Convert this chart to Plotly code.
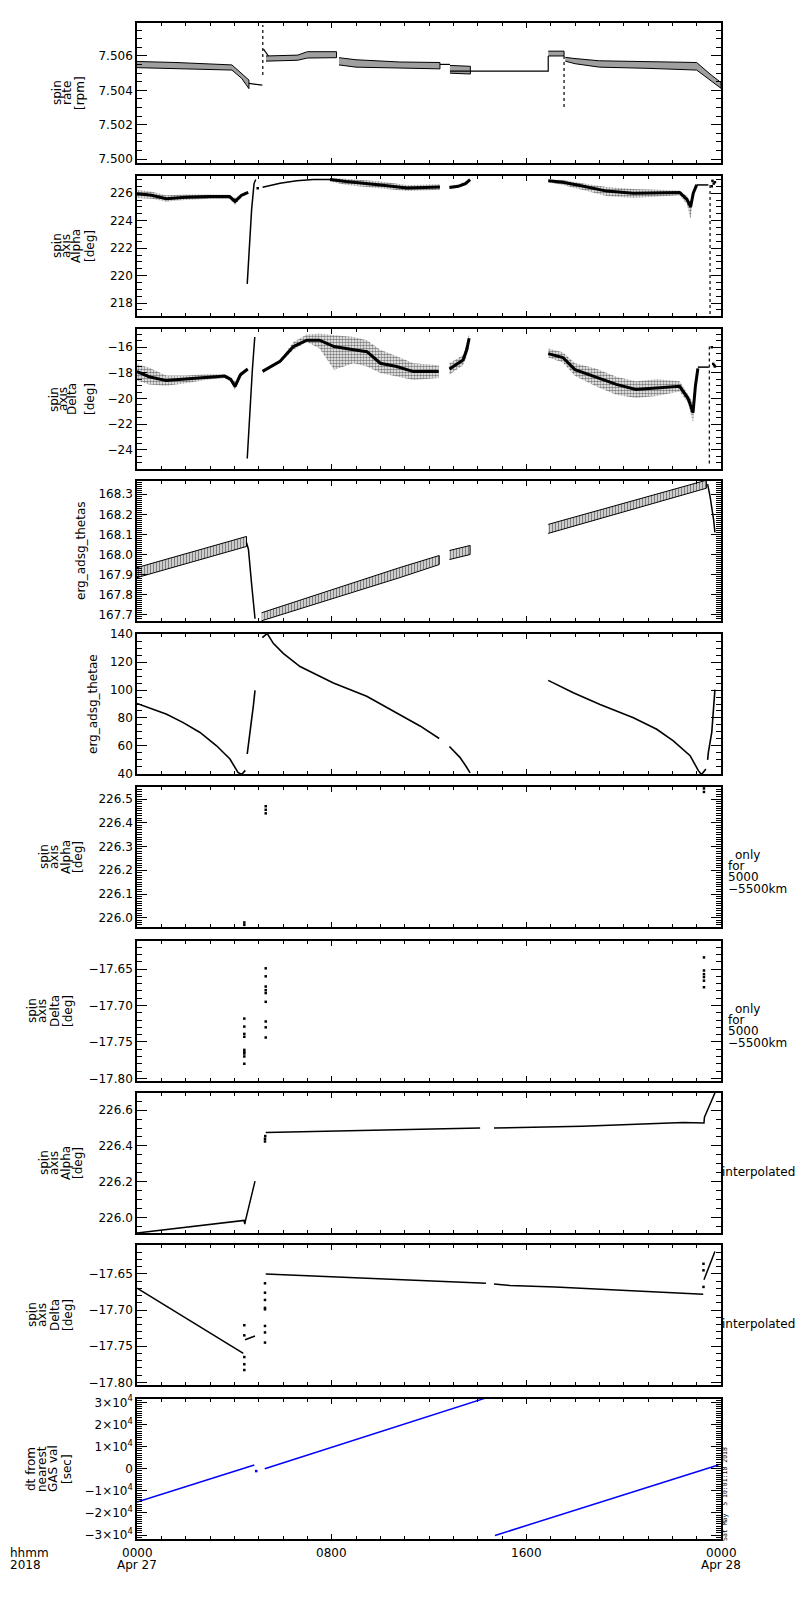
import plotly.graph_objs as go
from plotly.subplots import make_subplots

# time axis: hours after 0000 UT, Apr 27 2018

# panel 1: spin rate [rpm] (quantised band: upper / lower levels)
rate_band_t = [0, 1.6, 3.9, 4.3, 4.6, None, 5.3, 6.6, 7.0, 8.2, None, 8.3, 9.0, 10.8, 12.45, None,
               12.86, 13.7, None, 16.9, 17.55, None, 17.6, 18.0, 19.0, 21.0, 23.0, 23.55, 24.0]
rate_band_hi = [7.50568, 7.50562, 7.50548, 7.50500, 7.50460, None, 7.50600, 7.50605, 7.50625, 7.50625, None,
                7.50590, 7.50578, 7.50565, 7.50562, None, 7.50545, 7.50540, None, 7.50628, 7.50628, None,
                7.50592, 7.50585, 7.50572, 7.50568, 7.50562, 7.50495, 7.50445]
rate_band_lo = [7.50532, 7.50528, 7.50518, 7.50470, 7.50410, None, 7.50570, 7.50575, 7.50588, 7.50590, None,
                7.50548, 7.50535, 7.50528, 7.50525, None, 7.50500, 7.50495, None, 7.50600, 7.50600, None,
                7.50570, 7.50555, 7.50535, 7.50528, 7.50518, 7.50462, 7.50412]
rate_line_t = [4.6, 5.15, None, 5.2, 5.4, None, 12.45, 12.86, None, 12.86, 16.9, 16.9]
rate_line_v = [7.50440, 7.50430, None, 7.50640, 7.50600, None, 7.50551, 7.50551, None, 7.50512, 7.50512, 7.50600]
rate_drop_t = [5.17, 5.17, None, 17.55, 17.55]
rate_drop_v = [7.5049, 7.5078, None, 7.5060, 7.5030]

# panel 2: spin axis Alpha [deg]
alpha_t = [0, 0.6, 1.2, 2.0, 3.0, 3.8, 4.03, 4.3, 4.57, None,
           7.93, 8.6, 10.0, 11.1, 12.45, None,
           12.84, 13.2, 13.5, 13.69, None,
           16.9, 17.5, 18.35, 19.3, 20.4, 21.5, 22.3, 22.6, 22.75, 22.86, 23.0]
alpha_mid = [225.95, 225.85, 225.6, 225.7, 225.75, 225.75, 225.4, 225.85, 226.05, None,
             227.0, 226.85, 226.6, 226.38, 226.45, None,
             226.42, 226.5, 226.7, 226.98, None,
             226.9, 226.8, 226.5, 226.15, 226.0, 226.0, 226.05, 225.55, 225.0, 226.0, 226.6]
alpha_lo = [225.65, 225.6, 225.4, 225.5, 225.6, 225.6, 225.15, 225.7, 225.95, None,
            226.85, 226.6, 226.35, 226.15, 226.25, None,
            226.3, 226.4, 226.6, 226.9, None,
            226.8, 226.6, 226.25, 225.8, 225.65, 225.75, 225.85, 225.2, 224.1, 225.7, 226.5]
alpha_hi = [226.25, 226.1, 225.85, 225.9, 225.9, 225.88, 225.65, 225.95, 226.15, None,
            227.1, 227.05, 226.85, 226.6, 226.65, None,
            226.55, 226.62, 226.85, 227.05, None,
            227.0, 226.95, 226.7, 226.45, 226.3, 226.25, 226.2, 225.8, 225.4, 226.2, 226.7]
alpha_line_t = [4.53, 4.64, 4.71, 4.81, 4.88, None, 5.16, 5.88, 6.56, 7.25, 7.93, None, 23.0, 23.48]
alpha_line_v = [219.4, 222.9, 224.8, 226.7, 227.0, None, 226.43, 226.72, 226.91, 227.0, 227.0, None, 226.6, 226.6]
alpha_drop_t = [23.55, 23.55]
alpha_drop_v = [217.2, 226.6]
alpha_pts_t = [4.96, 23.62, 23.65, 23.7, 23.75]
alpha_pts_v = [226.36, 226.5, 226.9, 226.7, 226.8]

# panel 3: spin axis Delta [deg]
delta_t = [0, 0.5, 1.2, 2.0, 2.8, 3.6, 3.85, 4.03, 4.25, 4.55, None,
           5.16, 5.88, 6.43, 6.98, 7.5, 8.1, 8.9, 9.45, 10.0, 10.67, 11.36, 12.4, None,
           12.84, 13.4, 13.55, 13.65, None,
           16.9, 17.5, 18.0, 18.85, 19.7, 20.5, 21.35, 22.3, 22.65, 22.85, 22.95, 23.05]
delta_mid = [-17.9, -18.3, -18.6, -18.5, -18.35, -18.25, -18.5, -19.05, -18.15, -17.7, None,
             -17.88, -17.1, -15.95, -15.45, -15.45, -15.95, -16.2, -16.35, -17.25, -17.5, -17.9, -17.9, None,
             -17.7, -17.0, -16.2, -15.3, None,
             -16.5, -16.8, -17.75, -18.3, -18.9, -19.3, -19.2, -19.05, -20.0, -21.1, -19.0, -17.65]
delta_hi = [-17.3, -17.6, -18.2, -18.2, -18.1, -18.1, -18.3, -18.7, -17.95, -17.6, None,
            -17.8, -17.0, -15.6, -15.0, -14.95, -15.05, -15.2, -15.45, -16.2, -16.7, -17.25, -17.4, None,
            -17.25, -16.6, -15.7, -14.95, None,
            -16.1, -16.4, -17.25, -17.65, -18.3, -18.65, -18.5, -18.65, -19.7, -20.35, -18.6, -17.55]
delta_lo = [-18.6, -18.9, -19.0, -18.8, -18.55, -18.4, -18.7, -19.35, -18.3, -17.8, None,
            -17.95, -17.2, -16.2, -15.6, -16.1, -17.75, -17.25, -17.5, -18.0, -18.3, -18.55, -18.4, None,
            -18.15, -17.4, -16.7, -15.9, None,
            -16.8, -17.2, -18.25, -19.05, -19.7, -19.95, -19.8, -19.45, -20.35, -21.9, -19.4, -17.75]
delta_line_t = [4.53, 4.66, 4.74, 4.84, None, 23.05, 23.5]
delta_line_v = [-24.67, -20.1, -17.8, -15.2, None, -17.55, -17.55]
delta_drop_t = [23.52, 23.52]
delta_drop_v = [-15.95, -25.3]
delta_pts_t = [23.62, 23.68, 23.72, 23.75]
delta_pts_v = [-16.0, -17.3, -17.4, -17.5]

# panel 4: erg_adsg_thetas (spin-modulated band)
thetas_t = [0, 4.5, None, 5.12, 10.8, 12.42, None, 12.84, 13.69, None, 16.9, 23.4]
thetas_lo = [167.885, 168.04, None, 167.67, 167.885, 167.95, None, 167.975, 168.0, None, 168.105, 168.33]
thetas_hi = [167.935, 168.09, None, 167.71, 167.935, 167.995, None, 168.02, 168.045, None, 168.15, 168.37]
thetas_line_t = [4.5, 4.58, 4.72, 4.85, None, 23.45, 23.55, 23.7, 23.75]
thetas_line_v = [168.06, 168.025, 167.84, 167.68, None, 168.35, 168.29, 168.17, 168.11]

# panel 5: erg_adsg_thetae
thetae_t = [0, 1.22, 1.9, 2.59, 3.27, 3.82, 4.15, 4.3, 4.45, None,
            4.53, 4.61, 4.71, 4.78, 4.85, None,
            5.15, 5.35, 5.6, 6.01, 6.7, 8.07, 9.44, 10.8, 11.63, 12.42, None,
            12.84, 13.27, 13.5, 13.69, None,
            16.9, 17.93, 19.03, 20.4, 21.36, 22.04, 22.73, 23.07, 23.2, 23.38, None,
            23.45, 23.48, 23.62, 23.68, 23.75]
thetae_v = [90.4, 82.6, 76.7, 69.6, 60.1, 50.6, 41.0, 39.5, 42.5, None,
            54.2, 67.0, 79.0, 88.4, 99.8, None,
            137.5, 140.5, 133.4, 126.3, 116.8, 105.0, 95.5, 82.5, 74.3, 65.3, None,
            59.6, 51.8, 46.0, 40.7, None,
            106.9, 98.0, 89.6, 80.2, 71.9, 63.6, 53.0, 42.3, 39.5, 43.5, None,
            50.0, 55.4, 69.6, 81.4, 100.3]

# panels 6/7: spin axis only for 5000-5500 km
only_alpha_t = [4.41, 4.41, 5.29, 5.29, 5.29, 23.3, 23.3]
only_alpha_v = [225.98, 225.97, 226.47, 226.455, 226.44, 226.545, 226.53]
only_delta_t = [4.41, 4.41, 4.41, 4.41, 4.41, 4.41, 4.41, 4.41, 4.41,
                5.29, 5.29, 5.29, 5.29, 5.29, 5.29, 5.29, 5.29, 5.29,
                23.3, 23.3, 23.3, 23.3, 23.3, 23.3]
only_delta_v = [-17.718, -17.729, -17.739, -17.743, -17.761, -17.764, -17.766, -17.770, -17.780,
                -17.649, -17.660, -17.674, -17.679, -17.683, -17.695, -17.722, -17.730, -17.744,
                -17.634, -17.652, -17.657, -17.661, -17.666, -17.675]

# panels 8/9: interpolated spin axis
interp_alpha_t = [0, 4.4, 4.43, 4.46, 4.85, None, 5.29, 10.8, 14.1, None,
                  14.67, 18.3, 22.45, 23.3, 23.32, 23.75]
interp_alpha_v = [225.915, 225.985, 225.965, 225.985, 226.204, None, 226.475, 226.49, 226.50, None,
                  226.50, 226.51, 226.53, 226.528, 226.56, 226.695]
interp_alpha_pts_t = [5.26, 5.26, 5.27]
interp_alpha_pts_v = [226.425, 226.44, 226.455]
interp_delta_t = [0, 4.37, None, 4.44, 4.85, None, 5.29, 10.8, 11.63, 13.45, 14.34, None,
                  14.67, 15.33, 17.18, 19.03, 20.88, 22.73, 23.27, None, 23.3, 23.75]
interp_delta_v = [-17.6697, -17.760, None, -17.741, -17.736, None, -17.650, -17.658, -17.660, -17.662, -17.663, None,
                  -17.664, -17.666, -17.668, -17.671, -17.674, -17.677, -17.678, None, -17.658, -17.619]
interp_delta_pts_t = [4.41, 4.41, 4.41, 4.41, 4.41,
                      5.26, 5.26, 5.26, 5.26, 5.26, 5.26, 5.26, 5.26,
                      23.28, 23.28, 23.28]
interp_delta_pts_v = [-17.721, -17.735, -17.765, -17.775, -17.783,
                      -17.663, -17.676, -17.686, -17.697, -17.699, -17.722, -17.731, -17.745,
                      -17.636, -17.645, -17.668]

# panel 10: dt from nearest GAS value [sec]
dt_t = [0, 4.82, None, 5.25, 14.29, None, 14.71, 23.89]
dt_v = [-15100, 1630, None, 0, 31800, None, -30200, 1630]
dt_pts_t = [4.9]
dt_pts_v = [-1090]

dt_tickvals = [-30000, -20000, -10000, 0, 10000, 20000, 30000]
dt_ticktext = ["\u22123\u00d710<sup>4</sup>", "\u22122\u00d710<sup>4</sup>", "\u22121\u00d710<sup>4</sup>", "0",
               "1\u00d710<sup>4</sup>", "2\u00d710<sup>4</sup>", "3\u00d710<sup>4</sup>"]

time_ticks = [0, 8, 16, 24]
time_labels = ["0000", "0800", "1600", "0000"]
date_labels = ["Apr 27", "", "", "Apr 28"]

titles = [
    ["spin", "rate", "[rpm]"],
    ["spin", "axis", "Alpha", "[deg]"],
    ["spin", "axis", "Delta", "[deg]"],
    ["erg_adsg_thetas"],
    ["erg_adsg_thetae"],
    ["spin", "axis", "Alpha", "[deg]"],
    ["spin", "axis", "Delta", "[deg]"],
    ["spin", "axis", "Alpha", "[deg]"],
    ["spin", "axis", "Delta", "[deg]"],
    ["dt from", "nearest", "GAS val", "[sec]"],
]

# ---------------- layout geometry (pixels of the 800x1600 page)
W, H = 800, 1600
L, R, T, B = 137, 721, 23, 1539
panel_tops = [23, 176, 329, 481, 634, 787, 941, 1093, 1245, 1399]
panel_h = 140
title_x = [[57, 67, 80], [57, 66, 76, 90], [54, 63, 72, 90], [81], [93],
           [44, 54, 66, 78], [32, 42, 55, 68], [44, 54, 66, 78], [32, 42, 55, 68], [31, 42, 53, 67]]
FONT = "DejaVu Sans"


def px_x(p):
    return (p - L) / (R - L)


def px_y(p):
    return (B - p) / (B - T)


def segments(t, *cols):
    segs, cur = [], []
    for row in zip(t, *cols):
        if row[0] is None:
            if cur:
                segs.append(cur)
            cur = []
        else:
            cur.append(row)
    if cur:
        segs.append(cur)
    return segs


def band(fig, row, t, lo, hi, **style):
    xs, ys = [], []
    for seg in segments(t, lo, hi):
        ts = [s[0] for s in seg]
        xs += ts + ts[::-1] + [None]
        ys += [s[2] for s in seg] + [s[1] for s in seg][::-1] + [None]
    fig.add_trace(go.Scatter(x=xs, y=ys, mode="lines", fill="toself", **style), row=row, col=1)


def line(fig, row, t, v, color="black", width=1.5, dash="solid"):
    fig.add_trace(go.Scatter(x=t, y=v, mode="lines", line=dict(color=color, width=width, dash=dash)),
                  row=row, col=1)


def dots(fig, row, t, v, color="black", size=2.5):
    fig.add_trace(go.Scatter(x=t, y=v, mode="markers",
                             marker=dict(color=color, size=size, symbol="square", line=dict(width=0))),
                  row=row, col=1)


fig = make_subplots(rows=10, cols=1)

dot_fill = dict(shape=".", fgcolor="black", bgcolor="rgba(0,0,0,0)", size=3, solidity=0.55)

# panel 1
band(fig, 1, rate_band_t, rate_band_lo, rate_band_hi, line=dict(color="black", width=1),
     fillpattern=dict(shape="-", fgcolor="black", bgcolor="rgba(0,0,0,0)", size=2, solidity=0.7))
line(fig, 1, rate_line_t, rate_line_v, width=1.2)
line(fig, 1, rate_drop_t, rate_drop_v, width=1.2, dash="dot")

# panel 2
band(fig, 2, alpha_t, alpha_lo, alpha_hi, line=dict(width=0), fillpattern=dot_fill)
line(fig, 2, alpha_t, alpha_mid, width=3)
line(fig, 2, alpha_line_t, alpha_line_v, width=1.5)
line(fig, 2, alpha_drop_t, alpha_drop_v, width=1.2, dash="dot")
dots(fig, 2, alpha_pts_t, alpha_pts_v)

# panel 3
band(fig, 3, delta_t, delta_lo, delta_hi, line=dict(width=0), fillpattern=dot_fill)
line(fig, 3, delta_t, delta_mid, width=3)
line(fig, 3, delta_line_t, delta_line_v, width=1.5)
line(fig, 3, delta_drop_t, delta_drop_v, width=1.2, dash="dot")
dots(fig, 3, delta_pts_t, delta_pts_v)

# panel 4
band(fig, 4, thetas_t, thetas_lo, thetas_hi, line=dict(color="black", width=1),
     fillpattern=dict(shape="|", fgcolor="black", bgcolor="rgba(0,0,0,0)", size=3, solidity=0.6))
line(fig, 4, thetas_line_t, thetas_line_v, width=1.5)

# panel 5
line(fig, 5, thetae_t, thetae_v, width=1.6)

# panels 6-9
dots(fig, 6, only_alpha_t, only_alpha_v)
dots(fig, 7, only_delta_t, only_delta_v)
line(fig, 8, interp_alpha_t, interp_alpha_v, width=1.5)
dots(fig, 8, interp_alpha_pts_t, interp_alpha_pts_v)
line(fig, 9, interp_delta_t, interp_delta_v, width=1.5)
dots(fig, 9, interp_delta_pts_t, interp_delta_pts_v)

# panel 10
line(fig, 10, dt_t, dt_v, color="#0000ff", width=1.5)
dots(fig, 10, dt_pts_t, dt_pts_v, color="#0000ff")

y_axes = [
    dict(range=[7.49977, 7.50792], tick0=7.5, dtick=0.002, tickformat=".3f", minor=0.0005),
    dict(range=[217.06, 227.25], tick0=0, dtick=2, tickformat="d", minor=0.5),
    dict(range=[-25.49, -14.58], tick0=0, dtick=2, tickformat="d", minor=0.5),
    dict(range=[167.669, 168.366], tick0=0, dtick=0.1, tickformat=".1f", minor=0.01),
    dict(range=[39.9, 140.1], tick0=0, dtick=20, tickformat="d", minor=5),
    dict(range=[225.961, 226.551], tick0=0, dtick=0.1, tickformat=".1f", minor=0.01),
    dict(range=[-17.8037, -17.6115], tick0=0, dtick=0.05, tickformat=".2f", minor=0.01),
    dict(range=[225.915, 226.695], tick0=0, dtick=0.2, tickformat=".1f", minor=0.05),
    dict(range=[-17.8037, -17.610], tick0=0, dtick=0.05, tickformat=".2f", minor=0.01),
    dict(range=[-31800, 31500], tickmode="array", tickvals=dt_tickvals, ticktext=dt_ticktext, minor=1000),
]

for i in range(10):
    n = "" if i == 0 else str(i + 1)
    top = panel_tops[i]
    cfg = dict(y_axes[i])
    minor = cfg.pop("minor")
    lo_frac = max(0.0, px_y(top + panel_h))
    hi_frac = min(1.0, px_y(top))
    fig.layout["yaxis" + n].update(
        domain=[lo_frac, hi_frac],
        showline=True, linecolor="black", linewidth=1.5, mirror="allticks",
        ticks="inside", ticklen=10, tickwidth=1, tickcolor="black",
        minor=dict(tick0=0, dtick=minor, ticks="inside", ticklen=5, tickwidth=1, tickcolor="black", showgrid=False),
        showgrid=False, zeroline=False,
        tickfont=dict(family=FONT, size=12, color="black"),
        **cfg)
    fig.layout["xaxis" + n].update(
        range=[0, 24], tickmode="array", tickvals=time_ticks, showticklabels=False,
        showline=True, linecolor="black", linewidth=1.5, mirror="allticks",
        ticks="inside", ticklen=5, tickwidth=1, tickcolor="black",
        minor=dict(tick0=0, dtick=1, ticks="inside", ticklen=3, tickwidth=1, tickcolor="black", showgrid=False),
        showgrid=False, zeroline=False)

annotations = []


def label(text, x, y, size=12, angle=0, xanchor="center", family=FONT):
    annotations.append(dict(text=text, x=px_x(x), y=px_y(y), xref="paper", yref="paper",
                            showarrow=False, textangle=angle, xanchor=xanchor, yanchor="middle",
                            font=dict(family=family, size=size, color="black")))


# y titles, one rotated line each
for i in range(10):
    mid = panel_tops[i] + panel_h / 2
    for text, x in zip(titles[i], title_x[i]):
        label(text, x, mid, size=12, angle=-90)

# right-hand notes
for top in (panel_tops[5], panel_tops[6]):
    label("only", 733, top + 68, xanchor="left")
    label("for", 726, top + 79, xanchor="left")
    label("5000", 726, top + 90, xanchor="left")
    label("\u22125500km", 726, top + 102, xanchor="left")
for top in (panel_tops[7], panel_tops[8]):
    label("interpolated", 720, top + 79, xanchor="left")

label("Sat May  5 10:01:18 2018", 725, 1494, size=6.5, angle=-90, family="DejaVu Sans Mono")

# time axis labels
for tv, tl, dl in zip(time_ticks, time_labels, date_labels):
    xp = L + tv * (R - L) / 24
    label(tl, xp, 1553)
    if dl:
        label(dl, xp, 1565)
label("hhmm", 8, 1553, xanchor="left")
label("2018", 8, 1565, xanchor="left")

fig.update_layout(
    width=W, height=H,
    margin=dict(l=L, r=W - R, t=T, b=H - B, pad=0),
    paper_bgcolor="white", plot_bgcolor="white",
    showlegend=False,
    annotations=annotations,
    font=dict(family=FONT, color="black"),
)

# page without body margin so the 800x1600 figure fills the window exactly
fig.write_html("out.html", config={"displayModeBar": False},
               post_script="document.body.style.margin='0px';document.body.style.overflow='hidden';")
